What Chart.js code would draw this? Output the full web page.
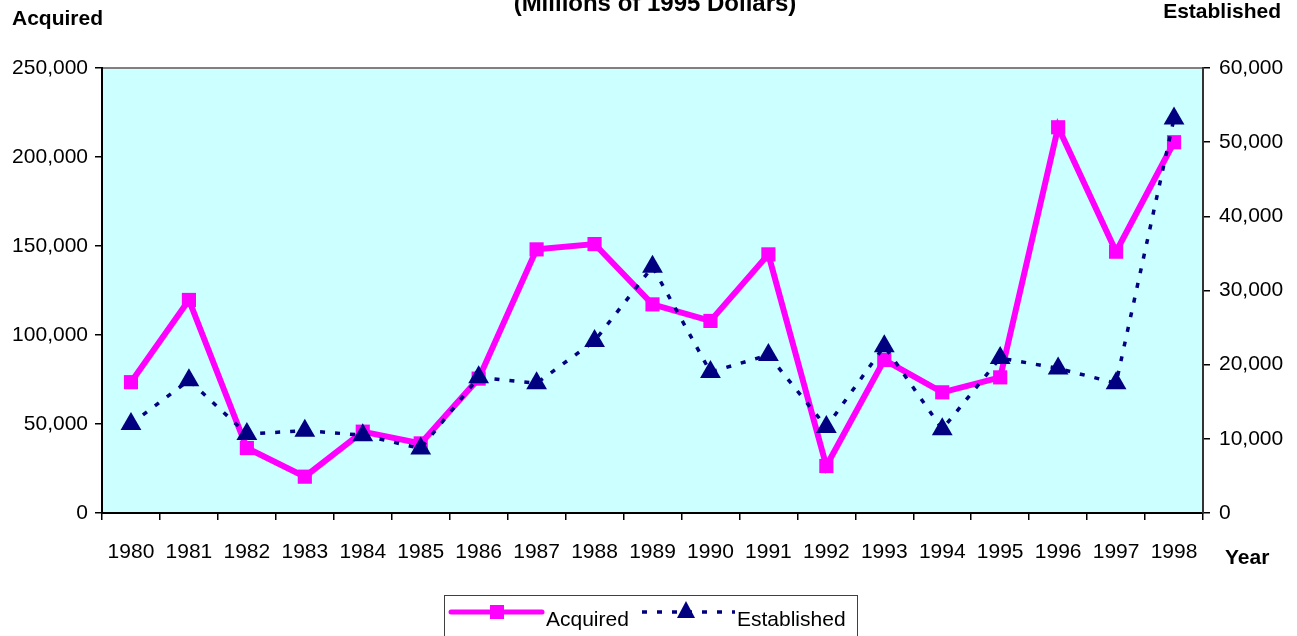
<!DOCTYPE html>
<html lang="en">
<head>
    <meta charset="UTF-8">
    <title>Acquired vs Established</title>
    <script src="https://cdn.jsdelivr.net/npm/chart.js"></script>
    <style>
        body {
            margin: 0;
            padding: 0;
            background: #fff;
        }
        #wrap {
            width: 1297px;
            height: 636px;
        }
    </style>
</head>
<body>
<div id="wrap"><canvas id="chart"></canvas></div>

<script>
    const years = ['1980', '1981', '1982', '1983', '1984', '1985', '1986', '1987', '1988', '1989',
                   '1990', '1991', '1992', '1993', '1994', '1995', '1996', '1997', '1998'];
    const acquired = [73500, 119700, 36500, 20400, 45700, 39100, 75500, 148100, 151100, 117200,
                      107900, 145300, 26400, 86000, 67800, 76200, 216700, 146800, 208300];
    const established = [12000, 17900, 10650, 11100, 10500, 8700, 18300, 17500, 23200, 33200,
                         19000, 21300, 11600, 22500, 11300, 20900, 19500, 17500, 53200];

    const FONT = "'Liberation Sans', Arial, sans-serif";
    const MAGENTA = '#ff00ff';
    const NAVY = '#000080';

    // plot background, frame and the loose texts around the chart
    const decor = {
        id: 'decor',
        beforeDraw(chart) {
            const { ctx, chartArea: a } = chart;
            ctx.save();
            ctx.fillStyle = '#ccffff';
            ctx.fillRect(a.left, a.top, a.right - a.left, a.bottom - a.top);
            ctx.strokeStyle = '#808080';
            ctx.lineWidth = 2;
            ctx.strokeRect(a.left, a.top, a.right - a.left, a.bottom - a.top);
            ctx.restore();
        },
        afterDraw(chart) {
            const ctx = chart.ctx;
            ctx.save();
            ctx.fillStyle = '#000';
            ctx.font = 'bold 24px ' + FONT;
            ctx.textAlign = 'center';
            ctx.textBaseline = 'alphabetic';
            ctx.fillText('(Millions of 1995 Dollars)', 655, 11);
            ctx.font = 'bold 21px ' + FONT;
            ctx.textBaseline = 'middle';
            ctx.textAlign = 'left';
            ctx.fillText('Acquired', 12, 19);
            ctx.textAlign = 'right';
            ctx.fillText('Established', 1281, 12);
            ctx.textAlign = 'left';
            ctx.fillText('Year', 1225, 558);

            // legend
            ctx.strokeStyle = '#404040';
            ctx.lineWidth = 1;
            ctx.strokeRect(444.5, 595.5, 413, 60);
            const ly = 612;
            ctx.strokeStyle = MAGENTA;
            ctx.lineWidth = 5;
            ctx.lineCap = 'round';
            ctx.beginPath();
            ctx.moveTo(451, ly);
            ctx.lineTo(542, ly);
            ctx.stroke();
            ctx.fillStyle = MAGENTA;
            ctx.fillRect(490, ly - 7, 14, 14);
            ctx.lineCap = 'butt';
            ctx.strokeStyle = NAVY;
            ctx.lineWidth = 3.5;
            ctx.setLineDash([5, 10]);
            ctx.beginPath();
            ctx.moveTo(642, ly);
            ctx.lineTo(735, ly);
            ctx.stroke();
            ctx.setLineDash([]);
            ctx.fillStyle = NAVY;
            ctx.beginPath();
            ctx.moveTo(686, ly - 11);
            ctx.lineTo(695, ly + 6);
            ctx.lineTo(677, ly + 6);
            ctx.closePath();
            ctx.fill();
            ctx.fillStyle = '#000';
            ctx.font = '21px ' + FONT;
            ctx.textBaseline = 'middle';
            ctx.fillText('Acquired', 546, 620);
            ctx.fillText('Established', 737, 620);
            ctx.restore();
        }
    };

    const tickFont = { family: FONT, size: 21 };

    new Chart(document.getElementById('chart').getContext('2d'), {
        type: 'line',
        data: {
            labels: years,
            datasets: [
                {
                    label: 'Acquired',
                    data: acquired,
                    yAxisID: 'y',
                    borderColor: MAGENTA,
                    backgroundColor: MAGENTA,
                    borderWidth: 6,
                    pointStyle: 'rect',
                    pointRadius: 10,
                    pointBorderWidth: 0,
                    pointBackgroundColor: MAGENTA,
                    tension: 0,
                    order: 2
                },
                {
                    label: 'Established',
                    data: established,
                    yAxisID: 'y1',
                    borderColor: NAVY,
                    backgroundColor: NAVY,
                    borderWidth: 3.5,
                    borderDash: [5, 10],
                    pointStyle: 'triangle',
                    pointRadius: 12,
                    pointBorderWidth: 0,
                    pointBackgroundColor: NAVY,
                    tension: 0,
                    order: 1
                }
            ]
        },
        options: {
            responsive: true,
            maintainAspectRatio: false,
            animation: false,
            layout: { padding: { top: 68, left: 0, right: 0, bottom: 0 } },
            plugins: {
                legend: { display: false },
                tooltip: { enabled: false }
            },
            scales: {
                x: {
                    offset: true,
                    grid: {
                        offset: true,
                        drawOnChartArea: false,
                        color: '#000',
                        lineWidth: 1.5,
                        tickLength: 7
                    },
                    border: { color: '#000', width: 2 },
                    ticks: { color: '#000', font: tickFont, padding: 20, maxRotation: 0, autoSkip: false },
                    afterFit(scale) { scale.height = 123; }
                },
                y: {
                    position: 'left',
                    min: 0,
                    max: 250000,
                    grid: { drawOnChartArea: false, color: '#000', lineWidth: 1.5, tickLength: 7 },
                    border: { color: '#000', width: 2 },
                    ticks: {
                        stepSize: 50000,
                        color: '#000',
                        font: tickFont,
                        padding: 7,
                        callback: v => v.toLocaleString('en-US')
                    },
                    afterFit(scale) { scale.width = 102; }
                },
                y1: {
                    position: 'right',
                    min: 0,
                    max: 60000,
                    grid: { drawOnChartArea: false, color: '#000', lineWidth: 1.5, tickLength: 7 },
                    border: { color: '#333', width: 2 },
                    ticks: {
                        stepSize: 10000,
                        color: '#000',
                        font: tickFont,
                        padding: 9,
                        callback: v => v.toLocaleString('en-US')
                    },
                    afterFit(scale) { scale.width = 94; }
                }
            }
        },
        plugins: [decor]
    });
</script>
</body>
</html>
